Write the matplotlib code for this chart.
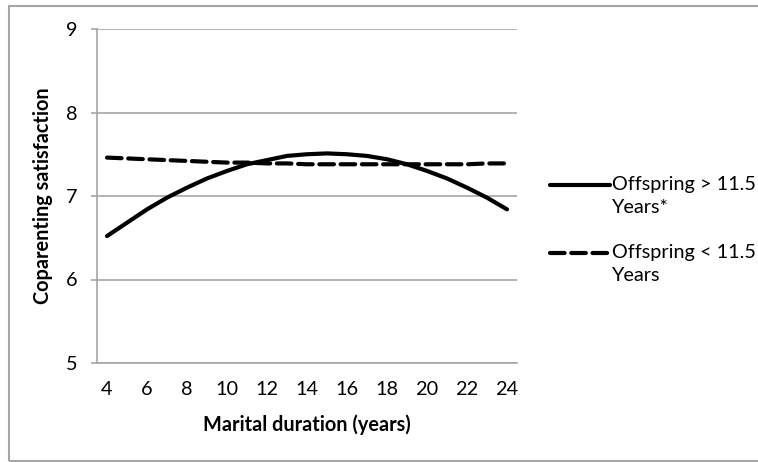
import matplotlib.pyplot as plt
from matplotlib.lines import Line2D
from matplotlib.patches import Rectangle

plt.rcParams["font.family"] = ["Lato", "DejaVu Sans"]

# ── Data ──────────────────────────────────────────────────────────────────────
years = list(range(4, 25))
older = [6.52, 6.68, 6.84, 6.98, 7.10, 7.21, 7.30, 7.38, 7.43, 7.48, 7.50,
         7.51, 7.50, 7.48, 7.44, 7.38, 7.30, 7.21, 7.10, 6.98, 6.84]
younger = [7.46, 7.45, 7.44, 7.43, 7.42, 7.41, 7.40, 7.40, 7.39, 7.39, 7.38,
           7.38, 7.38, 7.38, 7.38, 7.38, 7.38, 7.38, 7.38, 7.39, 7.39]
labels = ["Offspring > 11.5\nYears*", "Offspring < 11.5\nYears"]
x_ticks = list(range(4, 25, 2))
y_ticks = [5, 6, 7, 8, 9]

GRID = "#a6a6a6"
FS = 14.3

# ── Figure ────────────────────────────────────────────────────────────────────
fig = plt.figure(figsize=(7.58, 4.62), dpi=100)
ax = fig.add_axes([97 / 758, 1 - 363 / 462, 420 / 758, 334 / 462])

ax.plot(years, older, color="black", linewidth=3.0, solid_capstyle="round")
ax.plot(years, younger, color="black", linewidth=3.0, dashes=(3.5, 1.6),
        dash_capstyle="round")

ax.set_xlim(3.5, 24.5)
ax.set_ylim(5, 9)
ax.set_xticks(x_ticks)
ax.set_yticks(y_ticks)
ax.tick_params(axis="x", length=0, pad=13, labelsize=FS)
ax.tick_params(axis="y", length=4.5, width=1.2, color=GRID, pad=9.5, labelsize=FS)
ax.grid(axis="y", color=GRID, linewidth=1.2)
ax.set_axisbelow(True)
for side in ["top", "right"]:
    ax.spines[side].set_visible(False)
for side in ["left", "bottom"]:
    ax.spines[side].set_color(GRID)
    ax.spines[side].set_linewidth(1.2)

ax.set_xlabel("Marital duration (years)", fontsize=FS, fontweight="bold",
              labelpad=12)
ax.set_ylabel("Coparenting satisfaction", fontsize=FS, fontweight="bold",
              labelpad=9)

# ── Legend (handle aligned with first text line, as in the source) ────────────
styles = [dict(solid_capstyle="round"), dict(dashes=(3.5, 1.6), dash_capstyle="round")]
for i, (lab, st) in enumerate(zip(labels, styles)):
    y0 = 1 - (185 + 68 * i) / 462
    fig.add_artist(Line2D([550 / 758, 610 / 758], [y0, y0], color="black",
                          linewidth=3.0, transform=fig.transFigure, **st))
    fig.text(612 / 758, y0 + 9 / 462, lab, fontsize=FS, va="top", ha="left",
             linespacing=1.45)

# outer chart border (right edge falls outside the image)
fig.add_artist(Rectangle((9 / 758, 1.2 / 462), 760 / 758, 455 / 462,
                         transform=fig.transFigure, fill=False,
                         edgecolor=GRID, linewidth=1.5))

fig.savefig("out.png", dpi=100)
